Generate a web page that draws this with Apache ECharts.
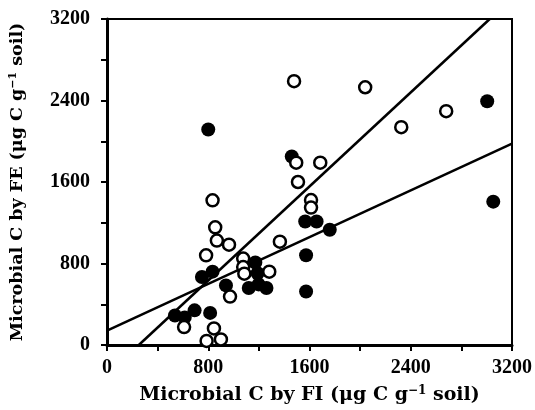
<!DOCTYPE html>
<html>
<head>
<meta charset="utf-8">
<script src="https://cdn.jsdelivr.net/npm/echarts@6/dist/echarts.min.js"></script>
<style>html,body{margin:0;padding:0;background:#fff}#c{width:535px;height:410px}</style>
</head>
<body>
<div id="c"></div>
<script>
// Filled circles: [FI, FE]
const filledFI = [800, 1460, 3004, 3052, 1566, 1656, 1760, 1573, 1573, 750, 834, 940, 1172, 1190, 1120, 1198, 1260, 537, 614, 692, 815];
const filledFE = [2115, 1850, 2393, 1407, 1212, 1212, 1132, 881, 525, 668, 720, 585, 810, 705, 560, 595, 560, 290, 271, 340, 315];
// Open circles
const openFI = [1478, 1495, 1685, 1509, 1612, 1612, 1366, 2040, 2680, 2325, 834, 855, 868, 964, 783, 1076, 1076, 1085, 1282, 972, 609, 845, 787, 900];
const openFE = [2590, 1790, 1790, 1600, 1423, 1349, 1014, 2530, 2295, 2138, 1420, 1155, 1025, 985, 880, 849, 765, 700, 720, 475, 176, 163, 40, 55];
// Regression lines: y = slope*x + intercept
const lineSlopes = [1.154, 0.574];
const lineIntercepts = [-290, 140];
const tickLabels = ['0', '800', '1600', '2400', '3200'];
const tickStep = 400;

const AX_MIN = 0, AX_MAX = 3200;
function clipLine(m, b) {
  let x0 = AX_MIN, y0 = m * x0 + b;
  if (y0 < AX_MIN) { x0 = (AX_MIN - b) / m; y0 = AX_MIN; }
  let x1 = AX_MAX, y1 = m * x1 + b;
  if (y1 > AX_MAX) { x1 = (AX_MAX - b) / m; y1 = AX_MAX; }
  return [[x0, y0], [x1, y1]];
}
const font = 'Liberation Serif';
const nameFont = 'DejaVu Serif';
const chart = echarts.init(document.getElementById('c'), null, {renderer: 'canvas'});
function nameStyle(size) {
  return {color: '#000', fontFamily: nameFont, fontWeight: 'bold', fontSize: size,
    rich: {sup: {fontFamily: nameFont, fontWeight: 'bold', fontSize: Math.round(size * 0.63), verticalAlign: 'top', padding: [0,0,Math.round(size*0.45),0], color:'#000'}}};
}
const axisCommon = {
  type: 'value', min: AX_MIN, max: AX_MAX, interval: tickStep,
  splitLine: {show: false},
  axisLine: {show: true, onZero: false, lineStyle: {color: '#000', width: 3}},
  axisTick: {show: true, inside: false, length: 6, lineStyle: {color: '#000', width: 2}},
  axisLabel: {color: '#000', fontFamily: font, fontWeight: 'bold', fontSize: 20, margin: 13,
    formatter: v => tickLabels.indexOf(String(v)) >= 0 ? String(v) : ''},
  nameLocation: 'middle'
};
const series = [
  {type: 'scatter', symbol: 'circle', symbolSize: 14, itemStyle: {color: '#000', opacity: 1},
   data: filledFI.map((x, i) => [x, filledFE[i]]), z: 3},
  {type: 'scatter', symbol: 'circle', symbolSize: 12, itemStyle: {color: '#fff', borderColor: '#000', borderWidth: 2.5, opacity: 1},
   data: openFI.map((x, i) => [x, openFE[i]]), z: 4}
];
lineSlopes.forEach((m, i) => {
  series.push({type: 'line', data: clipLine(m, lineIntercepts[i]), symbol: 'none',
    lineStyle: {color: '#000', width: 2.5}, z: 2, animation: false});
});
chart.setOption({
  animation: false,
  grid: {left: 101, right: 22, top: 19, bottom: 64, show: true, borderColor: '#000', borderWidth: 2, backgroundColor: 'transparent'},
  xAxis: Object.assign({}, axisCommon, {name: 'Microbial C by FI (μg C g{sup|−1} soil)', nameGap: 40,
    nameTextStyle: nameStyle(19)}),
  yAxis: Object.assign({}, axisCommon, {name: 'Microbial C by FE (μg C g{sup|−1} soil)', nameGap: 80,
    nameTextStyle: nameStyle(17.5),
    axisLabel: Object.assign({}, axisCommon.axisLabel, {margin: 17})}),
  series: series
});
</script>
</body>
</html>
